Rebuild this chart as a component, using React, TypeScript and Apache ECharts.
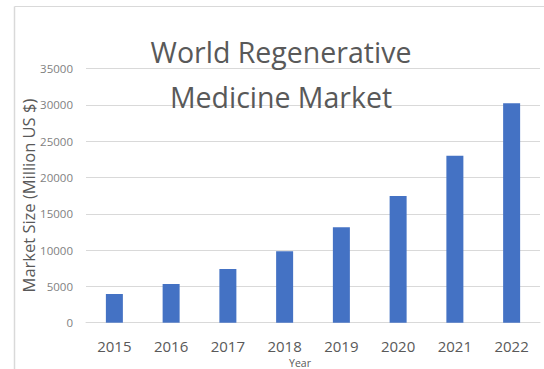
import React, { useEffect, useRef } from "react";
import * as echarts from "echarts";

const years = ["2015", "2016", "2017", "2018", "2019", "2020", "2021", "2022"];
const marketSize = [3950, 5330, 7400, 9830, 13150, 17450, 23000, 30200];
const titleLines = ["World Regenerative", "Medicine Market"];
const yAxisTitle = "Market Size (Million US $)";
const xAxisTitle = "Year";

export default function App() {
  const ref = useRef<HTMLDivElement>(null);
  useEffect(() => {
    if (!ref.current) return;
    const chart = echarts.init(ref.current, null, { renderer: "svg" });
    const font = "'Open Sans', 'Noto Sans', sans-serif";
    chart.setOption({
      animation: false,
      backgroundColor: "#ffffff",
      title: {
        text: titleLines.join("\n"),
        left: 276,
        top: 24,
        textAlign: "center",
        textStyle: {
          fontFamily: font,
          fontSize: 28.5,
          fontWeight: "normal",
          color: "#595959",
          lineHeight: 45,
        },
      },
      graphic: [
        {
          type: "line",
          shape: { x1: 14.5, y1: 6.5, x2: 544, y2: 6.5 },
          style: { stroke: "#d9d9d9", lineWidth: 1 },
        },
        {
          type: "line",
          shape: { x1: 14.5, y1: 6.5, x2: 14.5, y2: 369 },
          style: { stroke: "#d9d9d9", lineWidth: 1.5 },
        },
      ],
      grid: {
        left: 86,
        right: 4,
        top: 68.5,
        bottom: 46.3,
        outerBoundsMode: "none",
        containLabel: false,
      },
      xAxis: {
        type: "category",
        data: years,
        name: xAxisTitle,
        nameLocation: "middle",
        nameGap: 34,
        nameMoveOverlap: false,
        nameTextStyle: {
          fontFamily: font,
          fontSize: 10.5,
          lineHeight: 12,
          color: "#595959",
          padding: [0, 26, 0, 0],
        },
        axisLine: { show: true, lineStyle: { color: "#d9d9d9" } },
        axisTick: { show: false },
        axisLabel: {
          fontFamily: font,
          fontSize: 15,
          lineHeight: 17,
          color: "#595959",
          margin: 15,
        },
      },
      yAxis: {
        type: "value",
        min: 0,
        max: 35000,
        interval: 5000,
        name: yAxisTitle,
        nameLocation: "middle",
        nameGap: 49,
        nameMoveOverlap: false,
        nameTextStyle: {
          fontFamily: font,
          fontSize: 16.5,
          color: "#595959",
        },
        axisLine: { show: false },
        axisTick: { show: false },
        axisLabel: {
          fontFamily: font,
          fontSize: 11.5,
          color: "#7f7f7f",
          margin: 13,
          formatter: (v: number) => String(v),
        },
        splitLine: { lineStyle: { color: "#d9d9d9", width: 1 } },
      },
      series: [
        {
          type: "bar",
          data: marketSize,
          barWidth: 17,
          itemStyle: { color: "#4472c4" },
        },
      ],
    });
    return () => chart.dispose();
  }, []);
  return (
    <div
      ref={ref}
      style={{ position: "fixed", left: 0, top: 0, width: 544, height: 369 }}
    />
  );
}
